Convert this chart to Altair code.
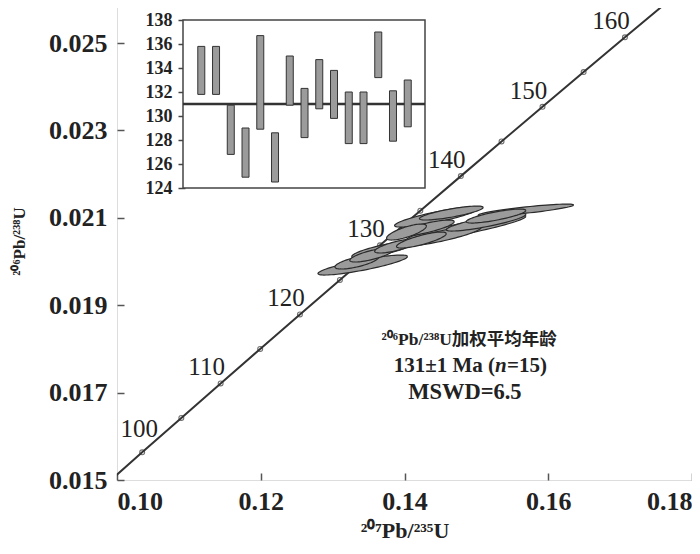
import altair as alt
import pandas as pd
import numpy as np

# ---------------- main axes ----------------
x_ticks = [0.10, 0.12, 0.14, 0.16, 0.18]
y_ticks = [0.015, 0.017, 0.019, 0.021, 0.023, 0.025]
x_domain = [0.10, 0.18]
y_domain = [0.015, 0.02594]

# ---------------- concordia (age in Ma) ----------------
conc_age = [95, 100, 105, 110, 115, 120, 125, 130, 135, 140, 145, 150, 155, 160, 165, 170]
conc_x = [0.09808, 0.10350, 0.10895, 0.11442, 0.11992, 0.12545, 0.13101, 0.13659,
          0.14220, 0.14784, 0.15350, 0.15920, 0.16492, 0.17067, 0.17645, 0.18226]
conc_y = [0.014846, 0.015633, 0.016421, 0.017210, 0.017999, 0.018789, 0.019580, 0.020371,
          0.021163, 0.021955, 0.022748, 0.023541, 0.024336, 0.025131, 0.025926, 0.026722]
marker_ages = [100, 105, 110, 115, 120, 125, 130, 135, 140, 145, 150, 155, 160]
label_ages = [100, 110, 120, 130, 140, 150, 160]

# ---------------- analyses (error ellipses) ----------------
ell_x = [0.13419, 0.13336, 0.13682, 0.13543, 0.13889, 0.14443, 0.14651, 0.14858,
         0.14512, 0.14235, 0.15135, 0.15689, 0.15273, 0.14304, 0.14028]
ell_y = [0.019920, 0.019989, 0.020263, 0.020149, 0.020355, 0.021018, 0.021110, 0.020767,
         0.020584, 0.020492, 0.020904, 0.021178, 0.021041, 0.020767, 0.020675]
ell_sx = [0.00623, 0.00304, 0.00415, 0.00304, 0.00304, 0.00581, 0.00443, 0.00830,
          0.00554, 0.00346, 0.00554, 0.00664, 0.00415, 0.00388, 0.00277]
ell_sy = [0.000229, 0.000160, 0.000183, 0.000160, 0.000160, 0.000229, 0.000160, 0.000297,
          0.000229, 0.000183, 0.000206, 0.000137, 0.000160, 0.000183, 0.000183]
ell_rho = [0.85, 0.70, 0.80, 0.75, 0.75, 0.85, 0.80, 0.90, 0.85, 0.80, 0.85, 0.85, 0.80, 0.80, 0.75]

# ---------------- inset: 206Pb/238U ages ----------------
inset_idx = list(range(1, 16))
inset_lo = [131.8, 131.8, 126.8, 124.9, 128.9, 124.5, 130.9, 128.2, 130.6, 129.8,
            127.7, 127.7, 133.2, 127.9, 129.1]
inset_hi = [135.8, 135.8, 130.9, 129.0, 136.7, 128.6, 135.0, 132.3, 134.7, 133.8,
            132.0, 132.0, 137.0, 132.1, 133.0]
inset_mean = 131
inset_ticks = [124, 126, 128, 130, 132, 134, 136, 138]
inset_x_domain = [-0.24, 16.17]
inset_y_domain = [124, 138]

# ---------------- annotation ----------------
ann_line1 = "²⁰⁶Pb/²³⁸U加权平均年龄"
ann_line2a = "131±1 Ma ("
ann_line2b = "n"
ann_line2c = "=15)"
ann_line3 = "MSWD=6.5"
x_title = "²⁰⁷Pb/²³⁵U"
y_title = "²⁰⁶Pb/²³⁸U"

SERIF = "Liberation Serif, Noto Sans CJK SC"
INK = "#222222"

# ---------- tables ----------
conc_df = pd.DataFrame({"age": conc_age, "x": conc_x, "y": conc_y})
mark_df = conc_df[conc_df["age"].isin(marker_ages)]
lab_df = conc_df[conc_df["age"].isin(label_ages)].copy()
lab_df["txt"] = lab_df["age"].astype(str)

rows = []
t = np.linspace(0, 2 * np.pi, 73)
for i in range(len(ell_x)):
    ex = ell_x[i] + ell_sx[i] * np.cos(t)
    ey = ell_y[i] + ell_sy[i] * (ell_rho[i] * np.cos(t) + np.sqrt(1 - ell_rho[i] ** 2) * np.sin(t))
    for k in range(len(t)):
        rows.append({"id": i, "k": k, "x": ex[k], "y": ey[k]})
ell_df = pd.DataFrame(rows)

xs = alt.Scale(domain=x_domain, nice=False, zero=False)
ys = alt.Scale(domain=y_domain, nice=False, zero=False)

x_axis = alt.Axis(values=x_ticks, format=".2f", offset=-7, tickSize=7, domain=False,
                  labelPadding=8, labelFont="Liberation Serif", labelFontSize=26,
                  labelFontWeight="bold", labelColor=INK, tickColor="#555", tickWidth=1.5,
                  title=x_title, titleFont=SERIF, titleFontSize=22, titleFontWeight="bold",
                  titleColor=INK, titlePadding=6, grid=False, labelFlush=True)
y_axis = alt.Axis(values=y_ticks, format=".3f", offset=-7, tickSize=7, domain=False,
                  labelPadding=10, labelFont="Liberation Serif", labelFontSize=26,
                  labelFontWeight="bold", labelColor=INK, tickColor="#555", tickWidth=1.5,
                  title=y_title, titleFont=SERIF, titleFontSize=17, titleFontWeight="bold",
                  titleColor=INK, titlePadding=20, grid=False)

conc_line = alt.Chart(conc_df).mark_line(color="#333", strokeWidth=2, clip=True).encode(
    x=alt.X("x:Q", scale=xs, axis=x_axis),
    y=alt.Y("y:Q", scale=ys, axis=y_axis),
    order="age:Q",
)
conc_marks = alt.Chart(mark_df).mark_point(shape="circle", filled=False, size=24,
                                           stroke="#333", strokeWidth=1.1).encode(
    x=alt.X("x:Q", scale=xs), y=alt.Y("y:Q", scale=ys))
labels_main = alt.Chart(lab_df[lab_df["age"] != 100]).mark_text(
    font="Liberation Serif", fontSize=25, color=INK, dx=-14, dy=-16,
    align="center", baseline="middle").encode(
    x=alt.X("x:Q", scale=xs), y=alt.Y("y:Q", scale=ys), text="txt:N")
labels_100 = alt.Chart(lab_df[lab_df["age"] == 100]).mark_text(
    font="Liberation Serif", fontSize=25, color=INK, dx=-3, dy=-23,
    align="center", baseline="middle").encode(
    x=alt.X("x:Q", scale=xs), y=alt.Y("y:Q", scale=ys), text="txt:N")

ellipses = alt.Chart(ell_df).mark_line(fill="#9b9b9b", stroke="#2a2a2a", strokeWidth=1.2,
                                       fillOpacity=1).encode(
    x=alt.X("x:Q", scale=xs), y=alt.Y("y:Q", scale=ys),
    detail="id:N", order="k:Q")

ann_x = 0.14900
ann_x2 = 0.15260
a1 = alt.Chart().mark_text(font=SERIF, fontSize=17.5, fontWeight="bold", color=INK,
                           align="center", baseline="middle").encode(
    x=alt.X(datum=ann_x, scale=xs), y=alt.Y(datum=0.018204, scale=ys), text=alt.value(ann_line1))
a2a = alt.Chart().mark_text(font="Liberation Serif", fontSize=21, fontWeight="bold", color=INK,
                            align="right", baseline="middle").encode(
    x=alt.X(datum=ann_x2, scale=xs), y=alt.Y(datum=0.017609, scale=ys), text=alt.value(ann_line2a))
a2b = alt.Chart().mark_text(font="Liberation Serif", fontSize=21, fontWeight="bold",
                            fontStyle="italic", color=INK, align="left", baseline="middle").encode(
    x=alt.X(datum=ann_x2, scale=xs), y=alt.Y(datum=0.017609, scale=ys), text=alt.value(ann_line2b))
a2c = alt.Chart().mark_text(font="Liberation Serif", fontSize=21, fontWeight="bold", color=INK,
                            align="left", baseline="middle", dx=12).encode(
    x=alt.X(datum=ann_x2, scale=xs), y=alt.Y(datum=0.017609, scale=ys), text=alt.value(ann_line2c))
a3 = alt.Chart().mark_text(font="Liberation Serif", fontSize=22.5, fontWeight="bold", color=INK,
                           align="center", baseline="middle").encode(
    x=alt.X(datum=0.14840, scale=xs), y=alt.Y(datum=0.017014, scale=ys), text=alt.value(ann_line3))

main = alt.layer(conc_line, conc_marks, labels_main, labels_100, ellipses, a1, a2a, a2b, a2c, a3)

# ---------- inset ----------
ixs = alt.Scale(domain=inset_x_domain, range=[61, 313], nice=False, zero=False)
iys = alt.Scale(domain=inset_y_domain, range=[186, 18], nice=False, zero=False)
inset_axis = alt.Axis(orient="left", offset=-68, tickSize=7, domain=False, values=inset_ticks,
                      labelPadding=6, labelFont="Liberation Serif", labelFontSize=18,
                      labelFontWeight="bold", labelColor=INK, tickColor="#444", tickWidth=1.5,
                      title=None, grid=False)

frame_df = pd.DataFrame({"x0": [inset_x_domain[0]], "x1": [inset_x_domain[1]],
                         "y0": [inset_y_domain[0]], "y1": [inset_y_domain[1]],
                         "m": [inset_mean]})
bars_df = pd.DataFrame({"i": inset_idx, "lo": inset_lo, "hi": inset_hi})

frame = alt.Chart(frame_df).mark_rect(fill="white", stroke="#444", strokeWidth=1.5).encode(
    x=alt.X("x0:Q", scale=ixs, axis=None), x2="x1:Q",
    y=alt.Y("y0:Q", scale=iys, axis=inset_axis), y2="y1:Q")
bars = alt.Chart(bars_df).mark_bar(size=7, fill="#9b9b9b", stroke="#333", strokeWidth=1).encode(
    x=alt.X("i:Q", scale=ixs, axis=None),
    y=alt.Y("lo:Q", scale=iys, axis=inset_axis), y2="hi:Q")
mean_rule = alt.Chart(frame_df).mark_rule(color="#333", strokeWidth=2.5).encode(
    x=alt.X("x0:Q", scale=ixs, axis=None), x2="x1:Q",
    y=alt.Y("m:Q", scale=iys, axis=inset_axis))

inset = alt.layer(frame, mean_rule, bars)

chart = alt.layer(main, inset).resolve_scale(x="independent", y="independent").properties(
    width=575, height=478,
    autosize=alt.AutoSizeParams(type="none"),
    padding={"left": 109, "top": -6, "right": 0, "bottom": 65},
).configure_view(stroke="#555", strokeWidth=2).configure(background="white")

chart.save("out.html", embed_options={"renderer": "svg", "actions": False})
